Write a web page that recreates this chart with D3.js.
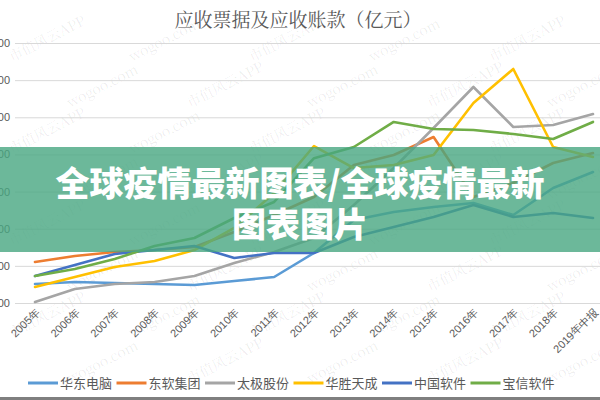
<!DOCTYPE html>
<html><head><meta charset="utf-8">
<script src="https://cdn.jsdelivr.net/npm/d3@7/dist/d3.min.js"></script>
<style>
html,body{margin:0;padding:0;background:#fff;}
svg{display:block;font-family:"Noto Sans CJK SC","Noto Sans",sans-serif;}
</style></head>
<body>
<svg id="c" width="600" height="400"></svg>
<script>
const categories = ["2005年","2006年","2007年","2008年","2009年","2010年","2011年","2012年","2013年","2014年","2015年","2016年","2017年","2018年","2019年中报"];
const seriesNames = ["华东电脑","东软集团","太极股份","华胜天成","中国软件","宝信软件"];
const huadong  = [2.56,2.83,2.69,2.56,2.42,2.96,3.50,6.73,11.17,12.25,12.92,13.46,11.85,15.48,17.63];
const dongruan = [5.52,6.33,6.87,7.13,7.54,9.56,11.85,14.27,18.58,19.92,22.35,14.27,16.15,18.85,20.19];
const taiji    = [0.13,1.88,2.56,2.83,3.63,5.38,6.87,8.75,13.19,18.17,23.56,29.08,23.69,23.96,25.44];
const huasheng = [2.15,3.50,4.85,5.65,7.13,10.10,14.80,21.13,18.17,18.58,19.92,26.92,31.50,21.00,19.65];
const zhongruan= [3.63,5.12,6.60,7.13,7.67,6.06,6.73,6.73,8.88,10.23,11.58,13.19,11.58,12.12,11.44];
const baoxin   = [3.63,4.58,5.92,7.67,8.75,11.44,13.60,19.50,21.00,24.37,23.42,23.29,22.75,22.08,24.37];
const yTicks = [0,5,10,15,20,25,30,35];
const colors = ["#5b9bd5","#ed7d31","#a5a5a5","#ffc000","#4472c4","#70ad47"];
const title = "应收票据及应收账款（亿元）";
const bannerLines = ["全球疫情最新图表/全球疫情最新","图表图片"];
const watermarkTexts = ["市值风云APP","wogoo.com"];

const allSeries = [huadong,dongruan,taiji,huasheng,zhongruan,baoxin];
const svg = d3.select("#c");

// watermark
const wm = svg.append("g").attr("fill","#000").attr("fill-opacity",0.08)
  .style("font-family","'Noto Serif CJK SC','DejaVu Serif',serif").style("font-size","14px");
for (let r = 0; r < 8; r++) {
  for (let c = 0; c < 5; c++) {
    wm.append("text")
      .attr("transform",`translate(${12 + c*120 + (r%2)*58},${62 + r*46}) rotate(-27)`)
      .text(watermarkTexts[(r + c) % 2]);
  }
}

const x = d3.scalePoint().domain(categories).range([35,593]);
const y = d3.scaleLinear().domain([0,35]).range([303,43]);

// gridlines + y labels
const yAxis = svg.append("g").attr("transform","translate(15,0)")
  .call(d3.axisLeft(y).tickValues(yTicks).tickFormat(d3.format(".2f")).tickSize(-585).tickPadding(5));
yAxis.select(".domain").remove();
yAxis.selectAll(".tick line").attr("stroke","#d9d9d9").attr("stroke-width",1);
yAxis.selectAll(".tick text").attr("fill","#595959").style("font-size","11px");

// x axis labels
const xAxis = svg.append("g").attr("transform","translate(0,303)")
  .call(d3.axisBottom(x).tickSize(0).tickPadding(0));
xAxis.select(".domain").remove();
xAxis.selectAll(".tick text")
  .attr("fill","#595959").style("font-size","11px")
  .attr("text-anchor","end").attr("dy",null)
  .attr("transform","translate(5,10) rotate(-45)");

// lines
const line = d3.line().x((d,i)=>x(categories[i])).y(d=>y(d));
svg.append("g").selectAll("path").data(allSeries).join("path")
  .attr("d",line).attr("fill","none")
  .attr("stroke",(d,i)=>colors[i]).attr("stroke-width",2.6)
  .attr("stroke-linejoin","round").attr("stroke-linecap","round");

// title
svg.append("text").attr("x",298).attr("y",27).attr("text-anchor","middle")
  .attr("fill","#595959").style("font-size","19px")
  .style("font-family","'Noto Serif CJK SC','Noto Sans CJK SC',serif")
  .text(title);

// legend
const lg = svg.append("g").selectAll("g").data(seriesNames).join("g")
  .attr("transform",(d,i)=>`translate(${28 + i*88.5},383)`);
lg.append("line").attr("x1",0).attr("x2",30).attr("y1",0).attr("y2",0)
  .attr("stroke",(d,i)=>colors[i]).attr("stroke-width",3);
lg.append("text").attr("x",32).attr("y",5).attr("fill","#595959")
  .style("font-size","13px").text(d=>d);

// bottom border
svg.append("rect").attr("x",0).attr("y",397).attr("width",600).attr("height",3).attr("fill","#7f7f7f");

// banner
svg.append("rect").attr("x",0).attr("y",147).attr("width",600).attr("height",105)
  .attr("fill","#47a681").attr("fill-opacity",0.8);
svg.append("g").selectAll("text").data(bannerLines).join("text")
  .attr("x",300).attr("y",(d,i)=>196 + i*41).attr("text-anchor","middle")
  .attr("fill","#fff").style("font-size","34px").style("font-weight","900")
  .text(d=>d);
</script>
</body></html>
